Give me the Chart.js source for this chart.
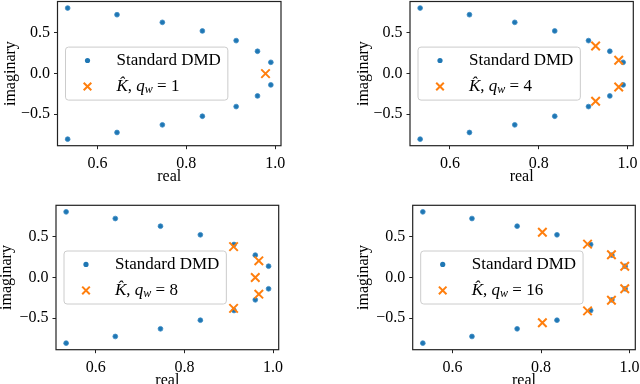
<!DOCTYPE html>
<html>
<head>
<meta charset="utf-8">
<script src="https://cdn.jsdelivr.net/npm/chart.js@4.4.1/dist/chart.umd.min.js"></script>
<style>
  html, body { margin: 0; padding: 0; background: #fff; }
  #fig { position: relative; width: 640px; height: 384px; overflow: hidden; }
  .cell { position: absolute; width: 320px; height: 192px; }
</style>
</head>
<body>
<div id="fig">
  <div class="cell" style="left:0;top:0"><canvas id="c1" width="320" height="192"></canvas></div>
  <div class="cell" style="left:320px;top:0"><canvas id="c2" width="320" height="192"></canvas></div>
  <div class="cell" style="left:0;top:192px"><canvas id="c3" width="320" height="192"></canvas></div>
  <div class="cell" style="left:320px;top:192px"><canvas id="c4" width="320" height="192"></canvas></div>
</div>
<script>
// Standard DMD eigenvalues (same in every panel)
const dmdReal = [0.533, 0.644, 0.746, 0.836, 0.912, 0.960, 0.990, 0.990, 0.960, 0.912, 0.836, 0.746, 0.644, 0.533];
const dmdImag = [0.807, 0.725, 0.631, 0.525, 0.406, 0.275, 0.139, -0.139, -0.275, -0.406, -0.525, -0.631, -0.725, -0.807];

// K-hat eigenvalues for each window size q_w
const qwValues = [1, 4, 8, 16];
const kReal1 = [0.978];
const kImag1 = [0.0];
const kReal4 = [0.928, 0.980, 0.980, 0.928];
const kImag4 = [0.340, 0.165, -0.165, -0.340];
const kReal8 = [0.911, 0.968, 0.960, 0.968, 0.911];
const kImag8 = [0.380, 0.205, 0.0, -0.205, -0.380];
const kReal16 = [0.803, 0.905, 0.959, 0.989, 0.989, 0.959, 0.905, 0.803];
const kImag16 = [0.557, 0.410, 0.280, 0.139, -0.139, -0.280, -0.410, -0.557];

const xTicks = [0.6, 0.8, 1.0];
const yTicks = [-0.5, 0.0, 0.5];
const xTitle = 'real';
const yTitle = 'imaginary';
const dmdLabel = 'Standard DMD';

const BLUE = '#1f77b4';
const ORANGE = '#ff7f0e';
const FONT = '"Liberation Serif", "DejaVu Serif", serif';
const FS = 16;
const LFS = 17; // legend text

Chart.defaults.font.family = FONT;
Chart.defaults.font.size = FS;
Chart.defaults.color = '#000';

// axes boxes inside each 320x192 canvas (matches the subplot layout)
const panels = [
  { id: 'c1', kx: kReal1, ky: kImag1, qw: qwValues[0], l: 57.5, r: 281, t: 1.5, b: 145.7, yTitleX: 11, xTitleY: 176.7 },
  { id: 'c2', kx: kReal4, ky: kImag4, qw: qwValues[1], l: 90, r: 313.3, t: 1.5, b: 145.7, yTitleX: 43.5, xTitleY: 176.7 },
  { id: 'c3', kx: kReal8, ky: kImag8, qw: qwValues[2], l: 56, r: 278.7, t: 13.3, b: 157.7, yTitleX: 7, xTitleY: 189 },
  { id: 'c4', kx: kReal16, ky: kImag16, qw: qwValues[3], l: 92.7, r: 315.3, t: 13.3, b: 157.7, yTitleX: 44, xTitleY: 189 }
];

function fmtTick(v) {
  const s = Math.abs(v).toFixed(1);
  return v < 0 ? '\u2212' + s : s;
}

// pieces of the "K-hat, q_w = n" label
function mathParts(qw) {
  return [
    { t: 'K\u0302', f: 'italic ' + LFS + 'px ' + FONT, dy: 0 },
    { t: ', ', f: LFS + 'px ' + FONT, dy: 0 },
    { t: 'q', f: 'italic ' + LFS + 'px ' + FONT, dy: 0 },
    { t: 'w', f: 'italic 12px ' + FONT, dy: 3.5 },
    { t: ' = ' + qw, f: LFS + 'px ' + FONT, dy: 0 }
  ];
}

function partsWidth(ctx, parts) {
  let w = 0;
  parts.forEach(p => { ctx.font = p.f; w += ctx.measureText(p.t).width; });
  return w;
}

function drawCross(ctx, x, y, r) {
  ctx.beginPath();
  ctx.moveTo(x - r, y - r); ctx.lineTo(x + r, y + r);
  ctx.moveTo(x - r, y + r); ctx.lineTo(x + r, y - r);
  ctx.stroke();
}

const frameAndLegend = {
  id: 'frameAndLegend',
  afterDatasetsDraw(chart, args, opts) {
    const { ctx, chartArea: a } = chart;
    ctx.save();
    // axes frame
    ctx.strokeStyle = '#222';
    ctx.lineWidth = 1.2;
    ctx.strokeRect(a.left, a.top, a.right - a.left, a.bottom - a.top);

    // legend, centre left
    const parts = mathParts(opts.qw);
    ctx.font = LFS + 'px ' + FONT;
    const w1 = ctx.measureText(dmdLabel).width;
    const w2 = partsWidth(ctx, parts);
    const bx = a.left + 8;
    const midY = (a.top + a.bottom) / 2;
    const bh = 53;
    const by = midY - bh / 2;
    const bw = 51 + Math.max(w1, w2) + 7;

    ctx.beginPath();
    ctx.roundRect(bx, by, bw, bh, 3);
    ctx.fillStyle = 'rgba(255,255,255,0.8)';
    ctx.fill();
    ctx.strokeStyle = '#cccccc';
    ctx.lineWidth = 1;
    ctx.stroke();

    const y1 = by + 13.4;
    const y2 = by + 39.4;
    const mx = bx + 22;
    const tx = bx + 51;

    ctx.fillStyle = BLUE;
    ctx.beginPath();
    ctx.arc(mx, y1, 2.6, 0, Math.PI * 2);
    ctx.fill();

    ctx.strokeStyle = ORANGE;
    ctx.lineWidth = 2;
    drawCross(ctx, mx, y2, 3.8);

    ctx.fillStyle = '#000';
    ctx.textBaseline = 'middle';
    ctx.textAlign = 'left';
    ctx.font = LFS + 'px ' + FONT;
    ctx.fillText(dmdLabel, tx, y1);
    let x = tx;
    parts.forEach(p => {
      ctx.font = p.f;
      ctx.fillText(p.t, x, y2 + p.dy);
      x += ctx.measureText(p.t).width;
    });
    ctx.restore();
  }
};

function range(vals) {
  const lo = Math.min(...vals), hi = Math.max(...vals);
  const m = (hi - lo) * 0.05;
  return [lo - m, hi + m];
}

panels.forEach(p => {
  const [xMin, xMax] = range(dmdReal.concat(p.kx));
  const [yMin, yMax] = range(dmdImag.concat(p.ky));
  const ctx = document.getElementById(p.id).getContext('2d');
  const lh = FS * 1.2;

  new Chart(ctx, {
    type: 'scatter',
    data: {
      datasets: [
        {
          label: dmdLabel,
          data: dmdReal.map((x, i) => ({ x, y: dmdImag[i] })),
          backgroundColor: BLUE,
          borderColor: '#3d8cc4',
          borderWidth: 0.8,
          pointRadius: 2.4,
          order: 2
        },
        {
          label: 'K, q_w = ' + p.qw,
          data: p.kx.map((x, i) => ({ x, y: p.ky[i] })),
          pointStyle: 'crossRot',
          borderColor: ORANGE,
          backgroundColor: ORANGE,
          borderWidth: 2,
          pointRadius: 6,
          order: 1
        }
      ]
    },
    options: {
      responsive: false,
      animation: false,
      events: [],
      layout: { autoPadding: false, padding: { left: 0, top: p.t, right: 320 - p.r, bottom: 0 } },
      plugins: {
        legend: { display: false },
        tooltip: { enabled: false },
        frameAndLegend: { qw: p.qw }
      },
      scales: {
        x: {
          type: 'linear',
          min: xMin,
          max: xMax,
          afterBuildTicks: s => { s.ticks = xTicks.map(v => ({ value: v })); },
          afterFit: s => { s.height = 192 - p.b; s.paddingLeft = 0; s.paddingRight = 0; },
          ticks: { callback: v => fmtTick(v), padding: 5, maxRotation: 0 },
          grid: { drawOnChartArea: false, drawTicks: true, tickLength: 3.5, tickColor: '#222', tickWidth: 1 },
          border: { display: false },
          title: { display: true, text: xTitle, padding: { top: 0, bottom: (192 - p.xTitleY) - lh / 2 } }
        },
        y: {
          type: 'linear',
          min: yMin,
          max: yMax,
          afterBuildTicks: s => { s.ticks = yTicks.map(v => ({ value: v })); },
          afterFit: s => { s.width = p.l; s.paddingTop = 0; s.paddingBottom = 0; },
          ticks: { callback: v => fmtTick(v), padding: 4 },
          grid: { drawOnChartArea: false, drawTicks: true, tickLength: 3.5, tickColor: '#222', tickWidth: 1 },
          border: { display: false },
          title: { display: true, text: yTitle, padding: { top: p.yTitleX - lh / 2, bottom: 0 } }
        }
      }
    },
    plugins: [frameAndLegend]
  });
});
</script>
</body>
</html>
